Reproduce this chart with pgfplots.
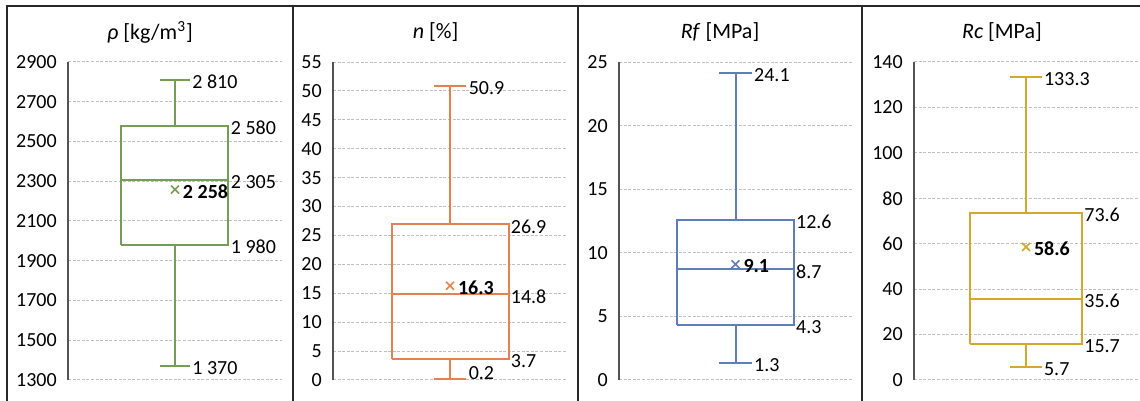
\documentclass[border=0pt]{standalone}
\usepackage{fontspec}
\setmainfont{Carlito}
\usepackage{pgfplots}
\pgfplotsset{compat=1.18}
\definecolor{cgreen}{RGB}{118,157,86}
\definecolor{corange}{RGB}{226,130,80}
\definecolor{cblue}{RGB}{95,125,185}
\definecolor{cgold}{RGB}{212,168,45}
\definecolor{fcol}{RGB}{40,40,40}
\newcommand\lab{\fontsize{10}{12}\selectfont}
\newcommand\ttl{\fontsize{11}{13}\selectfont}
\pgfplotsset{
  panel/.style={
    scale only axis, height=159pt,
    xmin=0, xmax=2, clip=false,
    axis x line=none, axis y line=left,
    y axis line style={-, draw=fcol!80, line width=0.8pt},
    ytick style={draw=none},
    ymajorgrids,
    major grid style={gray!50, line width=0.5pt, dash pattern=on 1.5pt off 0.8pt},
    yticklabel style={font=\lab, xshift=0pt},
    /pgf/number format/assume math mode=true,
    /pgf/number format/1000 sep={},
    anchor=south west,
  },
  bx/.style={line width=1pt, mark=none},
  avg/.style={only marks, mark=x, mark size=2.8pt, mark options={line width=0.8pt}},
  vlab/.style={draw=none, mark=none, point meta=explicit symbolic, nodes near coords,
    nodes near coords style={anchor=west, inner sep=1pt, font=\lab, text=black, yshift=-1pt}},
  mlab/.style={draw=none, mark=none, point meta=explicit symbolic, nodes near coords,
    nodes near coords style={anchor=west, inner sep=1pt, font=\lab\bfseries, text=black, xshift=2.8pt, yshift=-1pt}},
}
\begin{document}
\begin{tikzpicture}
\useasboundingbox (0,0) rectangle (570pt,200.5pt);
% frames
\draw[fcol, line width=0.8pt] (3.5pt,0) -- (3.5pt,197.5pt) -- (570pt,197.5pt);
\draw[fcol, line width=0.8pt] (146.5pt,0) -- (146.5pt,197.5pt);
\draw[fcol, line width=0.8pt] (289pt,0) -- (289pt,197.5pt);
\draw[fcol, line width=0.8pt] (431pt,0) -- (431pt,197.5pt);
% titles
\node[font=\ttl] at (75pt,184.5pt) {\textit{ρ} [kg/m\textsuperscript{3}]};
\node[font=\ttl] at (217.75pt,184.5pt) {\textit{n} [\%]};
\node[font=\ttl] at (360pt,184.5pt) {\textit{Rf} [MPa]};
\node[font=\ttl] at (501pt,184.5pt) {\textit{Rc} [MPa]};

% panel 1: min 1370, Q1 1980, median 2305, Q3 2580, max 2810, mean 2258
\begin{axis}[panel, at={(34pt,10.5pt)}, width=107pt, ymin=1300, ymax=2900, ytick={1300,1500,...,2900}]
\addplot[bx, cgreen] coordinates {(0.5,1980) (1.5,1980) (1.5,2580) (0.5,2580) (0.5,1980)};
\addplot[bx, cgreen] coordinates {(0.5,2305) (1.5,2305)};
\addplot[bx, cgreen] coordinates {(1,2580) (1,2810)};
\addplot[bx, cgreen] coordinates {(1,1980) (1,1370)};
\addplot[bx, cgreen] coordinates {(0.86,2810) (1.14,2810)};
\addplot[bx, cgreen] coordinates {(0.86,1370) (1.14,1370)};
\addplot[avg, cgreen] coordinates {(1,2258)};
\addplot[vlab] coordinates {(1.14,2810) [2 810] (1.5,2580) [2 580] (1.5,2305) [2 305] (1.5,1980) [1 980] (1.14,1370) [1 370]};
\addplot[mlab] coordinates {(1,2258) [2 258]};
\end{axis}

% panel 2
\begin{axis}[panel, at={(166.5pt,10.5pt)}, width=117pt, ymin=0, ymax=55, ytick={0,5,...,55}]
\addplot[bx, corange] coordinates {(0.5,3.7) (1.5,3.7) (1.5,26.9) (0.5,26.9) (0.5,3.7)};
\addplot[bx, corange] coordinates {(0.5,14.8) (1.5,14.8)};
\addplot[bx, corange] coordinates {(1,26.9) (1,50.9)};
\addplot[bx, corange] coordinates {(1,3.7) (1,0.2)};
\addplot[bx, corange] coordinates {(0.86,50.9) (1.14,50.9)};
\addplot[bx, corange] coordinates {(0.86,0.2) (1.14,0.2)};
\addplot[avg, corange] coordinates {(1,16.3)};
\addplot[vlab] coordinates {(1.14,50.9) [50.9] (1.5,26.9) [26.9] (1.5,14.8) [14.8] (1.5,3.7) [3.7] (1.14,1.6) [0.2]};
\addplot[mlab] coordinates {(1,16.3) [16.3]};
\end{axis}

% panel 3
\begin{axis}[panel, at={(309.5pt,10.5pt)}, width=116.5pt, ymin=0, ymax=25, ytick={0,5,...,25}]
\addplot[bx, cblue] coordinates {(0.5,4.3) (1.5,4.3) (1.5,12.6) (0.5,12.6) (0.5,4.3)};
\addplot[bx, cblue] coordinates {(0.5,8.7) (1.5,8.7)};
\addplot[bx, cblue] coordinates {(1,12.6) (1,24.1)};
\addplot[bx, cblue] coordinates {(1,4.3) (1,1.3)};
\addplot[bx, cblue] coordinates {(0.86,24.1) (1.14,24.1)};
\addplot[bx, cblue] coordinates {(0.86,1.3) (1.14,1.3)};
\addplot[avg, cblue] coordinates {(1,9.1)};
\addplot[vlab] coordinates {(1.14,24.1) [24.1] (1.5,12.6) [12.6] (1.5,8.7) [8.7] (1.5,4.3) [4.3] (1.14,1.3) [1.3]};
\addplot[mlab] coordinates {(1,9.1) [9.1]};
\end{axis}

% panel 4
\begin{axis}[panel, at={(457pt,10.5pt)}, width=112pt, ymin=0, ymax=140, ytick={0,20,...,140}]
\addplot[bx, cgold] coordinates {(0.5,15.7) (1.5,15.7) (1.5,73.6) (0.5,73.6) (0.5,15.7)};
\addplot[bx, cgold] coordinates {(0.5,35.6) (1.5,35.6)};
\addplot[bx, cgold] coordinates {(1,73.6) (1,133.3)};
\addplot[bx, cgold] coordinates {(1,15.7) (1,5.7)};
\addplot[bx, cgold] coordinates {(0.86,133.3) (1.14,133.3)};
\addplot[bx, cgold] coordinates {(0.86,5.7) (1.14,5.7)};
\addplot[avg, cgold] coordinates {(1,58.6)};
\addplot[vlab] coordinates {(1.14,133.3) [133.3] (1.5,73.6) [73.6] (1.5,35.6) [35.6] (1.5,15.7) [15.7] (1.14,5.7) [5.7]};
\addplot[mlab] coordinates {(1,58.6) [58.6]};
\end{axis}
\end{tikzpicture}
\end{document}
